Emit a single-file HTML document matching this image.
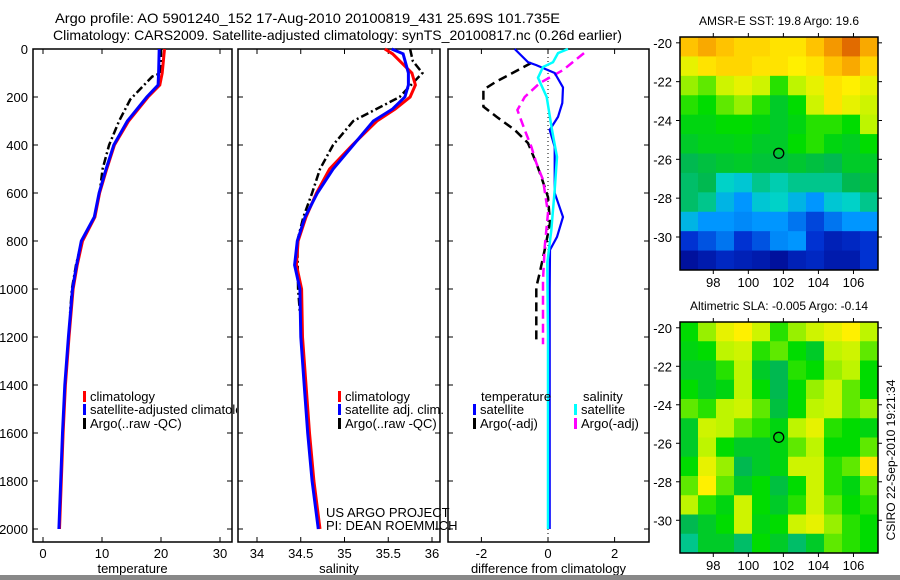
<!DOCTYPE html>
<html><head><meta charset="utf-8"><style>
html,body{margin:0;padding:0;background:#fff;width:900px;height:580px;overflow:hidden}
svg{display:block;font-family:"Liberation Sans",sans-serif}
text{font-size:13px;fill:#000}
</style></head><body>
<svg id="fig" width="900" height="580" viewBox="0 0 900 580">
<defs><clipPath id="clip1"><rect x="33" y="380" width="204" height="60"/></clipPath></defs>
<text x="55" y="23" textLength="505" lengthAdjust="spacingAndGlyphs" style="font-size:14px">Argo profile: AO 5901240_152 17-Aug-2010 20100819_431 25.69S 101.735E</text>
<text x="53" y="40" textLength="569" lengthAdjust="spacingAndGlyphs" style="font-size:14px">Climatology: CARS2009. Satellite-adjusted climatology: synTS_20100817.nc (0.26d earlier)</text>
<g id="plots"></g>
<rect x="0" y="575" width="900" height="5" fill="#888"/>
</svg>
<script>
// ---------- profile data ----------
const tDepth = [0,100,150,200,300,400,500,600,700,800,900,1000,1200,1400,1600,1800,2000];
const tSat   = [19.7,19.6,19.5,17.6,14.3,12.0,10.7,9.5,8.7,6.5,5.7,5.0,4.3,3.7,3.3,3.0,2.7];
const tClim  = [20.6,20.2,19.8,17.8,14.5,12.1,10.8,9.6,8.8,6.7,5.8,5.1,4.4,3.8,3.4,3.1,2.8];
const tArgoDepth = [0,100,115,210,300,400,500,600,700,800,900,1000,1100];
const tArgo  = [20.0,20.0,18.5,14.8,12.9,11.2,10.1,9.6,8.7,6.6,5.6,4.9,4.6];
const sDepth = [0,20,100,150,200,250,300,400,500,600,700,800,900,1000,1200,1400,1600,1800,2000];
const sSat   = [35.54,35.67,35.73,35.73,35.69,35.55,35.33,35.10,34.87,34.69,34.55,34.46,34.43,34.49,34.50,34.54,34.58,34.63,34.70];
const sClim  = [35.46,35.55,35.77,35.81,35.75,35.58,35.37,35.09,34.83,34.68,34.56,34.47,34.45,34.51,34.52,34.56,34.60,34.65,34.72];
const sArgoDepth = [0,50,100,200,300,400,500,600,700,800,1000,1100];
const sArgo  = [35.75,35.78,35.89,35.63,35.10,34.87,34.72,34.63,34.53,34.46,34.47,34.49];
const dTSatDepth = [0,55,67,100,160,225,283,337,408,545,600,700,783,837,1000,1500,2000];
const dTSat = [-1.0,-0.6,-0.35,0.2,0.45,0.43,0.3,0.05,0.2,0.2,0.2,0.45,0.27,0.06,0.05,0.05,0.05];
const dTArgoDepth = [58,115,137,170,240,283,337,392,475,533,617,725,837,933,992,1230];
const dTArgo = [-0.5,-1.27,-1.57,-1.94,-1.94,-1.54,-1.0,-0.6,-0.35,-0.2,0.0,0.06,-0.1,-0.25,-0.35,-0.35];
const dSArgoDepth = [17,88,142,200,254,337,408,475,545,683,825,962,1230];
const dSArgo = [1.08,0.45,-0.25,-0.7,-0.92,-0.7,-0.5,-0.35,-0.15,0.0,-0.1,-0.15,-0.15];
const dSSatDepth = [0,17,55,75,120,200,337,450,587,755,892,1200,2000];
const dSSat = [0.6,0.3,0.15,-0.15,-0.3,-0.04,0.12,0.27,0.2,0.1,-0.02,0.0,0.0];
const depthTicks = [0,200,400,600,800,1000,1200,1400,1600,1800,2000];
const tTicks = [0,10,20,30];
const sTicks = [34,34.5,35,35.5,36];
const dTicks = [-2,0,2];
// ---------- map data (normalized 0..1) ----------
const sstGrid = [
[0.85,0.88,0.85,0.82,0.82,0.80,0.80,0.85,0.90,0.95,0.88],
[0.75,0.80,0.82,0.82,0.80,0.80,0.78,0.80,0.85,0.88,0.82],
[0.68,0.65,0.72,0.75,0.72,0.62,0.70,0.75,0.80,0.78,0.75],
[0.62,0.60,0.65,0.68,0.62,0.55,0.60,0.72,0.80,0.75,0.72],
[0.58,0.58,0.60,0.60,0.58,0.55,0.58,0.62,0.62,0.60,0.70],
[0.55,0.57,0.57,0.58,0.55,0.55,0.60,0.62,0.58,0.56,0.60],
[0.50,0.52,0.54,0.55,0.53,0.52,0.54,0.52,0.50,0.55,0.55],
[0.48,0.50,0.40,0.38,0.45,0.42,0.45,0.45,0.45,0.50,0.52],
[0.48,0.45,0.35,0.30,0.38,0.40,0.35,0.30,0.38,0.40,0.45],
[0.35,0.30,0.30,0.28,0.30,0.30,0.25,0.18,0.25,0.30,0.30],
[0.15,0.20,0.25,0.15,0.20,0.28,0.30,0.15,0.10,0.12,0.15],
[0.05,0.08,0.12,0.10,0.08,0.05,0.10,0.12,0.08,0.08,0.15]];
const slaGrid = [
[0.60,0.68,0.75,0.78,0.72,0.62,0.68,0.72,0.75,0.78,0.70],
[0.58,0.60,0.70,0.72,0.62,0.65,0.60,0.55,0.70,0.72,0.65],
[0.55,0.55,0.62,0.70,0.55,0.50,0.62,0.60,0.68,0.70,0.60],
[0.60,0.55,0.58,0.70,0.60,0.50,0.60,0.68,0.72,0.65,0.60],
[0.65,0.62,0.70,0.72,0.65,0.52,0.60,0.70,0.72,0.65,0.68],
[0.55,0.72,0.70,0.65,0.62,0.58,0.70,0.75,0.62,0.60,0.58],
[0.55,0.70,0.60,0.55,0.55,0.58,0.65,0.70,0.60,0.60,0.65],
[0.60,0.75,0.68,0.50,0.55,0.58,0.72,0.72,0.62,0.65,0.80],
[0.65,0.78,0.65,0.55,0.60,0.52,0.60,0.72,0.62,0.58,0.65],
[0.70,0.62,0.58,0.72,0.60,0.55,0.62,0.72,0.65,0.60,0.62],
[0.50,0.55,0.60,0.72,0.58,0.60,0.72,0.75,0.68,0.62,0.60],
[0.45,0.55,0.55,0.48,0.60,0.55,0.48,0.55,0.65,0.62,0.60]];
const latTicks = [-20,-22,-24,-26,-28,-30];
const lonTicks = [98,100,102,104,106];
const floatLon = 101.735, floatLat = -25.69;

const NS = 'http://www.w3.org/2000/svg';
const root = document.getElementById('plots');
function mk(tag, attrs, parent){const e=document.createElementNS(NS,tag);for(const k in attrs)e.setAttribute(k,attrs[k]);(parent||root).appendChild(e);return e;}
function txt(x,y,s,anchor,parent){const t=mk('text',{x:x,y:y,'text-anchor':anchor||'start'},parent);t.textContent=s;return t;}

const yD = d => 49 + d*0.24;
const PTOP=49, PBOT=542;
function panel(name,x0,x1,xs,ticks,lab,label,showY){
  const g=mk('g',{});
  
  
  mk('rect',{x:x0,y:PTOP,width:x1-x0,height:PBOT-PTOP,fill:'none',stroke:'#000','stroke-width':1.5},g);
  ticks.forEach((v,i)=>{const x=xs(v);
    mk('line',{x1:x,x2:x,y1:PBOT,y2:PBOT-5,stroke:'#000'},g);
    mk('line',{x1:x,x2:x,y1:PTOP,y2:PTOP+5,stroke:'#000'},g);
    const t=txt(x,558,lab[i],'middle',g);
    
    
  });
  depthTicks.forEach(d=>{const y=yD(d);
    mk('line',{x1:x0,x2:x0+5,y1:y,y2:y,stroke:'#000'},g);
    mk('line',{x1:x1,x2:x1-5,y1:y,y2:y,stroke:'#000'},g);
    if(showY){const t=txt(28,y+5,String(d),'end',g);
      
      }
  });
  const t=txt((x0+x1)/2,573,label,'middle',g);
  
  
  return g;
}
function line(xs,depths,vals,color,dash,w,nm){
  const pts=depths.map((d,i)=>xs(vals[i]).toFixed(1)+','+yD(d).toFixed(1)).join(' ');
  const p=mk('polyline',{points:pts,fill:'none',stroke:color,'stroke-width':w||2.5,'stroke-dasharray':dash||'none'});
  
  
}
function legend(x,y,color,label,clip){
  mk('rect',{x:x,y:y-10,width:3,height:11,fill:color});
  const t=txt(x+7,y,label,'start');
  if(clip) t.setAttribute('clip-path','url(#clip1)');
  
  
}

// Temperature
const xT = v => 43 + v*5.9;
panel('temperature-panel',33,232,xT,tTicks,tTicks.map(String),'temperature',true);
line(xT,tArgoDepth,tArgo,'#000','8,3,2,3',2.5,'temp-argo-line');
line(xT,tDepth,tClim,'#f00',null,3,'temp-climatology-line');
line(xT,tDepth,tSat,'#00f',null,3,'temp-satellite-line');
legend(83,401,'#f00','climatology',true);
legend(83,414,'#00f','satellite-adjusted climatology',true);
legend(83,428,'#000','Argo(..raw -QC)',true);

// Salinity
const xS = v => 257 + (v-34)*87.5;
panel('salinity-panel',238,440,xS,sTicks,sTicks.map(String),'salinity',false);
line(xS,sArgoDepth,sArgo,'#000','8,3,2,3',2.5,'sal-argo-line');
line(xS,sDepth,sClim,'#f00',null,3,'sal-climatology-line');
line(xS,sDepth,sSat,'#00f',null,3,'sal-satellite-line');
legend(338,401,'#f00','climatology');
legend(338,414,'#00f','satellite adj. clim.');
legend(338,428,'#000','Argo(..raw -QC)');
const pl=txt(326,517,'US ARGO PROJECT');


const pi=txt(326,530,'PI: DEAN ROEMMICH');



// Difference
const xDf = v => 548 + v*33.3;
panel('difference-panel',448,649,xDf,dTicks,dTicks.map(String),'difference from climatology',false);
mk('line',{x1:548,x2:548,y1:PTOP,y2:PBOT,stroke:'#000','stroke-dasharray':'1,3'});
line(xDf,dTArgoDepth,dTArgo,'#000','9,5',2.5,'diff-temp-argo-line');
line(xDf,dSArgoDepth,dSArgo,'#f0f','9,5',2.5,'diff-sal-argo-line');
line(xDf,dTSatDepth,dTSat,'#00f',null,2.2,'diff-temp-satellite-line');
line(xDf,dSSatDepth,dSSat,'#0ff',null,2.5,'diff-sal-satellite-line');
const h1=txt(481,401,'temperature');


const h2=txt(583,401,'salinity');


legend(473,414,'#00f','satellite');
legend(473,428,'#000','Argo(-adj)');
legend(574,414,'#0ff','satellite');
legend(574,428,'#f0f','Argo(-adj)');

// ---------- maps ----------
const cmapStops=[[0,[0,0,130]],[0.15,[0,50,210]],[0.3,[0,150,255]],[0.4,[0,210,200]],[0.5,[0,185,80]],[0.6,[0,220,0]],[0.7,[190,245,0]],[0.78,[255,240,0]],[0.85,[255,195,0]],[0.92,[240,135,0]],[1,[200,60,0]]];
function cmap(v){for(let i=1;i<cmapStops.length;i++){if(v<=cmapStops[i][0]){const a=cmapStops[i-1],b=cmapStops[i];const f=(v-a[0])/(b[0]-a[0]);return 'rgb('+a[1].map((c,j)=>Math.round(c+(b[1][j]-c)*f)).join(',')+')';}}return 'rgb(200,60,0)';}
const LON0=96.1, LON1=107.4, LAT0=-19.7, LAT1=-31.7;
function map(name,top,bot,grid,title){
  const g=mk('g',{});
  
  
  const xL = lon => 680 + (lon-LON0)*(198/(LON1-LON0));
  const yL = lat => top + (LAT0-lat)*((bot-top)/(LAT0-LAT1));
  const rows=grid.length, cols=grid[0].length;
  const dLon=(LON1-LON0)/cols, dLat=(LAT0-LAT1)/rows;
  grid.forEach((row,r)=>row.forEach((v,c)=>{
    const x=xL(LON0+c*dLon), y=yL(LAT0-r*dLat);
    const cell=mk('rect',{x:x,y:y,width:xL(LON0+(c+1)*dLon)-x+0.5,height:yL(LAT0-(r+1)*dLat)-y+0.5,fill:cmap(v)},g);
    
    
  }));
  mk('rect',{x:680,y:top,width:198,height:bot-top,fill:'none',stroke:'#000','stroke-width':1.5},g);
  latTicks.forEach(l=>{const y=yL(l);mk('line',{x1:680,x2:676,y1:y,y2:y,stroke:'#000'},g);mk('line',{x1:878,x2:882,y1:y,y2:y,stroke:'#000'},g);
    const t=txt(672,y+5,String(l),'end',g);});
  lonTicks.forEach(l=>{const x=xL(l);mk('line',{x1:x,x2:x,y1:bot,y2:bot+4,stroke:'#000'},g);mk('line',{x1:x,x2:x,y1:top,y2:top-4,stroke:'#000'},g);
    const t=txt(x,bot+17,String(l),'middle',g);});
  const c=mk('circle',{cx:xL(floatLon),cy:yL(floatLat),r:5,fill:'none',stroke:'#000','stroke-width':1.3},g);
  
  
  const t=txt(779,top-12,title,'middle',g);
  t.style.fontSize='12px';
  
  
}
map('sst-map',37,270,sstGrid,'AMSR-E SST: 19.8 Argo: 19.6');
map('sla-map',322,553,slaGrid,'Altimetric SLA: -0.005 Argo: -0.14');
const st=txt(0,0,'CSIRO 22-Sep-2010 19:21:34','middle');
st.setAttribute('transform','translate(895,460) rotate(-90)');
st.style.fontSize='12px';


</script>
</body></html>
